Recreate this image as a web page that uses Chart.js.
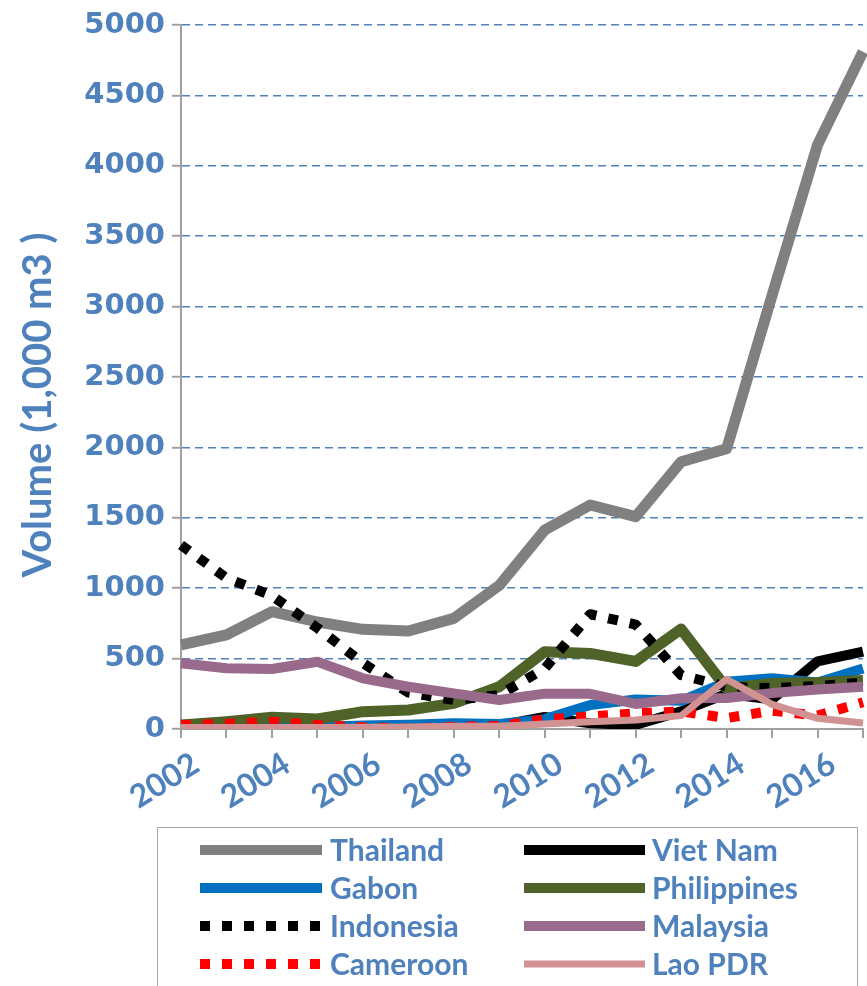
<!DOCTYPE html>
<html>
<head>
<meta charset="utf-8">
<script src="https://cdn.jsdelivr.net/npm/chart.js@4.4.1/dist/chart.umd.min.js"></script>
<style>
  html, body { margin: 0; padding: 0; background: #fff; }
  canvas { display: block; }
</style>
</head>
<body>
<canvas id="chart" width="867" height="986"></canvas>
<script>
// ─── Data ───
const years = ['2002', '2003', '2004', '2005', '2006', '2007', '2008', '2009',
               '2010', '2011', '2012', '2013', '2014', '2015', '2016', '2017'];

const thailand    = [597, 668, 833, 760, 708, 696, 786, 1020, 1413, 1591, 1508, 1898, 1990, 3080, 4148, 4810];
const vietNam     = [5, 5, 5, 5, 5, 5, 5, 25, 85, 40, 30, 125, 250, 210, 480, 550];
const gabon       = [0, 5, 10, 15, 25, 30, 40, 35, 70, 170, 210, 200, 335, 360, 330, 430];
const philippines = [28, 52, 83, 71, 123, 135, 182, 300, 549, 537, 480, 710, 289, 324, 330, 345];
const indonesia   = [1307, 1072, 947, 717, 469, 258, 206, 241, 430, 815, 742, 383, 300, 290, 305, 330];
const malaysia    = [467, 431, 426, 478, 360, 300, 253, 206, 251, 250, 178, 218, 220, 255, 280, 300];
const cameroon    = [28, 36, 52, 28, 12, 2, 16, 21, 69, 88, 111, 125, 78, 130, 95, 190];
const laoPdr      = [10, 10, 10, 10, 12, 15, 20, 20, 35, 52, 64, 95, 353, 175, 76, 42];

const yTicks = [0, 500, 1000, 1500, 2000, 2500, 3000, 3500, 4000, 4500, 5000];
const yTitle = 'Volume (1,000 m3 )';

const BLUE_TEXT = '#4F81BD';
const AXIS_GRAY = '#A0A0A0';

function series(label, data, color, width, dash) {
    return {
        label,
        data,
        borderColor: color,
        backgroundColor: color,
        borderWidth: width,
        borderDash: dash || [],
        borderCapStyle: 'butt',
        borderJoinStyle: 'round',
        pointRadius: 0,
        tension: 0,
        fill: false,
    };
}

const datasets = [
    series('Thailand', thailand, '#808080', 11),
    series('Viet Nam', vietNam, '#000000', 10),
    series('Gabon', gabon, '#0070C0', 10),
    series('Philippines', philippines, '#4F6228', 11),
    series('Indonesia', indonesia, '#000000', 10, [10, 12]),
    series('Malaysia', malaysia, '#996A8C', 10),
    series('Cameroon', cameroon, '#FF0000', 10, [10, 12]),
    series('Lao PDR', laoPdr, '#D09292', 7),
];
// later series sit on top, like the original
datasets.forEach((d, i) => { d.order = datasets.length - i; });

// ─── Rotated y-axis title, centred a bit below the scale middle ───
const axisTitle = {
    id: 'axisTitle',
    afterDraw(chart) {
        const { ctx } = chart;
        ctx.save();
        ctx.translate(38, 405);
        ctx.rotate(-Math.PI / 2);
        ctx.font = "bold 40px Lato";
        ctx.fillStyle = BLUE_TEXT;
        ctx.textAlign = 'center';
        ctx.textBaseline = 'middle';
        ctx.fillText(yTitle, 0, 0);
        ctx.restore();
    },
};

// ─── Two-column boxed legend under the plot ───
const boxLegend = {
    id: 'boxLegend',
    afterDraw(chart) {
        const { ctx } = chart;
        const rows = [850, 888, 926, 964];
        const cols = [{ x0: 200, x1: 322, tx: 330 }, { x0: 524, x1: 645, tx: 652 }];

        ctx.save();
        ctx.strokeStyle = '#A6A6A6';
        ctx.lineWidth = 1;
        ctx.strokeRect(157.5, 827.5, 700, 200);

        chart.data.datasets.forEach((ds, i) => {
            const col = cols[i % 2];
            const y = rows[Math.floor(i / 2)];
            ctx.beginPath();
            ctx.strokeStyle = ds.borderColor;
            ctx.lineWidth = Math.min(ds.borderWidth, 10);
            ctx.lineCap = 'butt';
            ctx.setLineDash(ds.borderDash);
            ctx.moveTo(col.x0, y);
            ctx.lineTo(col.x1, y);
            ctx.stroke();
            ctx.setLineDash([]);

            ctx.font = "bold 30px Lato";
            ctx.fillStyle = BLUE_TEXT;
            ctx.textAlign = 'left';
            ctx.textBaseline = 'middle';
            ctx.fillText(ds.label, col.tx, y + 1);
        });
        ctx.restore();
    },
};

new Chart(document.getElementById('chart'), {
    type: 'line',
    data: { labels: years, datasets },
    options: {
        responsive: false,
        animation: false,
        devicePixelRatio: 1,
        layout: { padding: { top: 25, right: 4, bottom: 0, left: 0 } },
        plugins: {
            legend: { display: false },
            tooltip: { enabled: false },
        },
        scales: {
            x: {
                offset: false,
                afterFit: (scale) => {
                    scale.height = 257;
                    scale.paddingLeft = 0;
                    scale.paddingRight = 0;
                },
                grid: {
                    drawOnChartArea: false,
                    drawTicks: true,
                    tickLength: 9,
                    color: AXIS_GRAY,
                    lineWidth: 2,
                },
                border: { color: AXIS_GRAY, width: 2 },
                ticks: {
                    autoSkip: false,
                    minRotation: 32,
                    maxRotation: 32,
                    labelOffset: 15,
                    padding: 7,
                    color: BLUE_TEXT,
                    font: { family: 'Lato', size: 32, weight: 'bold' },
                    callback: (val, idx) => (idx % 2 === 0 ? years[idx] : ''),
                },
            },
            y: {
                min: yTicks[0],
                max: yTicks[yTicks.length - 1],
                afterFit: (scale) => { scale.width = 181; },
                afterBuildTicks: (scale) => { scale.ticks = yTicks.map(v => ({ value: v })); },
                grid: {
                    color: '#4F81BD',
                    lineWidth: 1.5,
                    tickColor: AXIS_GRAY,
                    tickLength: 9,
                    tickWidth: 2,
                },
                border: { color: AXIS_GRAY, width: 2, dash: [8, 5] },
                ticks: {
                    padding: 7,
                    color: BLUE_TEXT,
                    font: { family: 'DejaVu Sans', size: 29, weight: 'bold' },
                    callback: (v) => String(v),
                },
            },
        },
    },
    plugins: [axisTitle, boxLegend],
});
</script>
</body>
</html>
